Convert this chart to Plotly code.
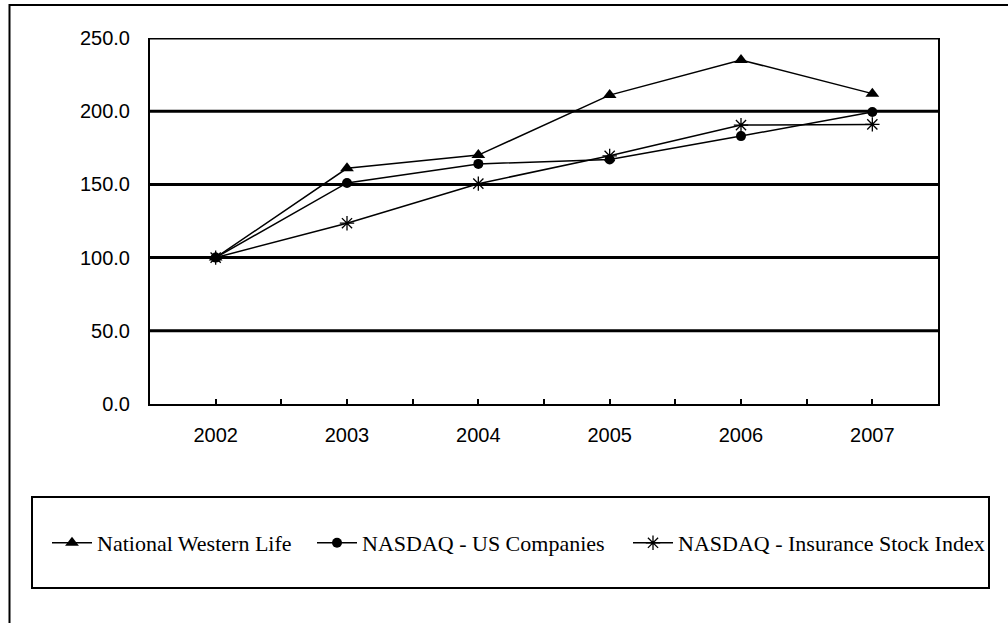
import plotly.graph_objects as go

years = [2002, 2003, 2004, 2005, 2006, 2007]
national_western_life = [100.0, 161.0, 170.0, 211.0, 235.0, 212.0]
nasdaq_us_companies = [100.0, 151.0, 164.0, 167.0, 183.0, 199.5]
nasdaq_insurance_index = [100.0, 123.5, 150.5, 169.5, 190.5, 191.0]
year_labels = ["2002", "2003", "2004", "2005", "2006", "2007"]
y_ticks = [0, 50, 100, 150, 200, 250]
y_tick_labels = ["0.0", "50.0", "100.0", "150.0", "200.0", "250.0"]

W, H = 1008, 623
L, R, T, B = 150, 938, 38, 404


def px_x(p):
    return (p - L) / (R - L)


def px_y(p):
    return (B - p) / (B - T)


fig = go.Figure()

fig.add_trace(go.Scatter(
    x=years, y=national_western_life, name="National Western Life",
    mode="lines+markers", legend="legend",
    line=dict(color="black", width=1.5),
    marker=dict(symbol="triangle-up", size=12, color="black"),
))
fig.add_trace(go.Scatter(
    x=years, y=nasdaq_us_companies, name="NASDAQ - US Companies",
    mode="lines+markers", legend="legend2",
    line=dict(color="black", width=1.5),
    marker=dict(symbol="circle", size=10, color="black"),
))
fig.add_trace(go.Scatter(
    x=years, y=nasdaq_insurance_index, name="NASDAQ - Insurance Stock Index",
    mode="lines+markers", legend="legend3",
    line=dict(color="black", width=1.5),
    marker=dict(symbol="asterisk-open", size=12, color="black",
                line=dict(color="black", width=1.3)),
))

# horizontal gridlines (thick black), skipping the baseline
for v in y_ticks[1:]:
    fig.add_shape(type="line", xref="paper", yref="y", x0=0, x1=1, y0=v, y1=v,
                  line=dict(color="black", width=3), layer="below")

# outer frame
fig.add_shape(type="rect", xref="paper", yref="paper",
              x0=px_x(9.5), x1=px_x(1030), y0=px_y(650), y1=px_y(5),
              line=dict(color="black", width=2))
# legend frame
fig.add_shape(type="rect", xref="paper", yref="paper",
              x0=px_x(32), x1=px_x(989), y0=px_y(588), y1=px_y(497),
              line=dict(color="black", width=2))

minor_vals = [y + 0.5 for y in years[:-1]]

legend_font = dict(family="Liberation Serif, Times New Roman, serif", size=22, color="black")


def legend_at(px):
    return dict(
        orientation="h",
        x=px_x(px), y=px_y(543), xanchor="left", yanchor="middle",
        font=legend_font, bgcolor="rgba(0,0,0,0)", borderwidth=0,
        itemwidth=40, tracegroupgap=0,
    )


fig.update_layout(
    width=W, height=H,
    margin=dict(l=L, r=W - R, t=T, b=H - B),
    paper_bgcolor="white", plot_bgcolor="white",
    showlegend=True,
    legend=legend_at(47),
    legend2=legend_at(312),
    legend3=legend_at(628),
    xaxis=dict(
        range=[2001.5, 2007.5],
        tickmode="array", tickvals=years, ticktext=year_labels,
        ticks="inside", ticklen=5, tickwidth=1.5, tickcolor="black",
        minor=dict(tickmode="array", tickvals=minor_vals, ticks="inside",
                   ticklen=5, tickwidth=1.5, tickcolor="black", showgrid=False),
        showline=True, linecolor="black", linewidth=2,
        showgrid=False, zeroline=False,
        ticklabelstandoff=12,
        tickfont=dict(family="Liberation Sans, Arial, sans-serif",
                      size=20, color="black"),
    ),
    yaxis=dict(
        range=[0, 250],
        tickmode="array", tickvals=y_ticks, ticktext=y_tick_labels,
        ticks="", showline=True, linecolor="black", linewidth=2, mirror=True,
        showgrid=False, zeroline=False,
        ticklabelstandoff=14,
        tickfont=dict(family="Liberation Sans, Arial, sans-serif",
                      size=20, color="black"),
    ),
)

fig.write_html(
    "out.html",
    config={"displayModeBar": False},
    post_script="document.body.style.margin='0';document.body.style.overflow='hidden';",
)
